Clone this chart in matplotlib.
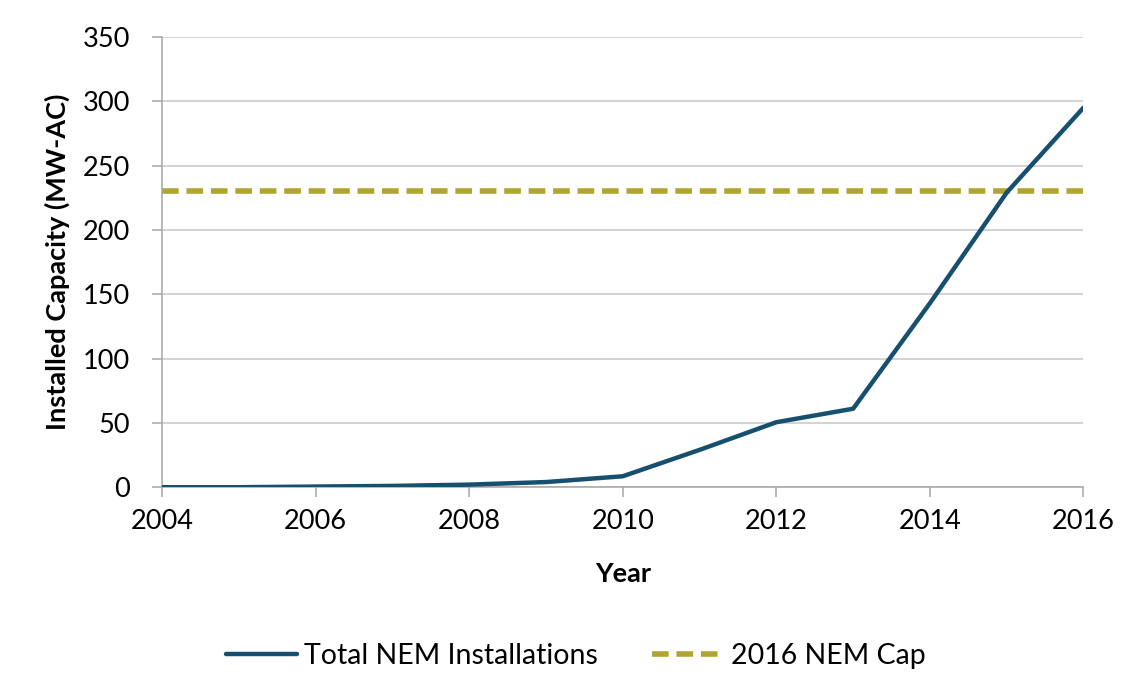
import matplotlib.pyplot as plt

plt.rcParams['font.family'] = ['Lato', 'DejaVu Sans']

years = [2004, 2005, 2006, 2007, 2008, 2009, 2010, 2011, 2012, 2013, 2014, 2015, 2016]
nem_installed = [0, 0, 0.5, 1, 2, 4, 8.5, 29, 50.5, 61, 143, 229, 295]
nem_cap = 230

fig = plt.figure(figsize=(11.38, 6.96), dpi=100)
ax = fig.add_axes([0.1424, 0.300, 0.8097, 0.647])

ax.plot(years, nem_installed, color='#17506e', lw=3.2, solid_capstyle='round',
        label='Total NEM Installations', zorder=3)
ax.axhline(nem_cap, color='#b0a530', lw=4.0, ls=(0, (3.0, 1.4)),
           label='2016 NEM Cap', zorder=2)

ax.set_xlim(2004, 2016)
ax.set_ylim(0, 350)
ax.set_xticks(range(2004, 2017, 2))
ax.set_yticks(range(0, 351, 50))
ax.grid(axis='y', color='#c8c8c8', lw=1.1)
ax.set_axisbelow(True)
for s in ['top', 'right']:
    ax.spines[s].set_visible(False)
for s in ['left', 'bottom']:
    ax.spines[s].set_color('#a6a6a6')
    ax.spines[s].set_linewidth(1.1)
ax.tick_params(axis='both', labelsize=19.5, colors='#a6a6a6', labelcolor='black',
               length=7, width=1.1)
ax.tick_params(axis='y', pad=16)
ax.tick_params(axis='x', pad=9)

ax.set_xlabel('Year', fontsize=19.5, fontweight='bold', labelpad=20)
ax.set_ylabel('Installed Capacity (MW-AC)', fontsize=19.5, fontweight='bold', labelpad=9)

fig.legend(loc='center', bbox_to_anchor=(0.506, 0.058), ncol=2, frameon=False,
           fontsize=20.5, handlelength=2.5, columnspacing=1.9, handletextpad=0.25)

fig.savefig('out.png')
